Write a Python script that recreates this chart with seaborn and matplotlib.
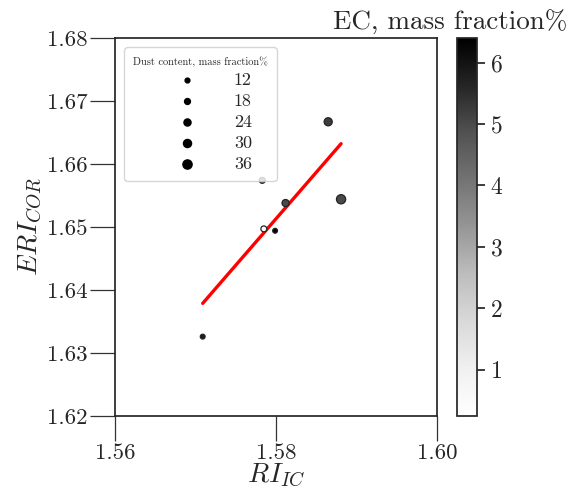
import seaborn as sns
import matplotlib.pyplot as plt
import matplotlib as mpl
import numpy as np
import pandas as pd

# data
ri_ic = [1.5709, 1.5783, 1.5785, 1.5799, 1.5812, 1.5865, 1.5881]
eri_cor = [1.6326, 1.6574, 1.6497, 1.6494, 1.6538, 1.6667, 1.6544]
ec = [5.8, 4.2, 0.25, 6.4, 5.0, 5.2, 5.0]
dust = [12, 18, 18, 12, 24, 30, 36]
dust_levels = [12, 18, 24, 30, 36]

df = pd.DataFrame({"RI": ri_ic, "ERI": eri_cor, "EC": ec, "Dust": dust})

sns.set_theme(style="ticks")
plt.rcParams["font.family"] = ["cmr10", "DejaVu Serif"]
plt.rcParams["mathtext.fontset"] = "cm"
plt.rcParams["axes.formatter.use_mathtext"] = True

fig = plt.figure(figsize=(5.68, 4.92), dpi=100)
ax = fig.add_axes([0.2025, 0.1545, 0.5665, 0.7683])
cax = fig.add_axes([0.8046, 0.1545, 0.0352, 0.7683])
ax.set_xlim(1.56, 1.60)
ax.set_ylim(1.62, 1.68)
ax.set_xticks([1.56, 1.58, 1.60])
ax.set_yticks([1.62, 1.63, 1.64, 1.65, 1.66, 1.67, 1.68])
ax.tick_params(axis="both", direction="out", length=18, width=0.9,
               color="#333333", labelsize=16.5, pad=2, bottom=True, left=True)
fig.canvas.draw()

norm = mpl.colors.Normalize(vmin=0.25, vmax=6.4)
size_map = {12: 12, 18: 18, 24: 26, 30: 34, 36: 44}
sns.scatterplot(data=df, x="RI", y="ERI", hue="EC", size="Dust",
                palette="Greys", hue_norm=norm, sizes=size_map,
                edgecolor="#222222", linewidth=0.9, legend=False, ax=ax, zorder=3)
sns.regplot(data=df, x="RI", y="ERI", scatter=False, ci=None, color="red",
            line_kws={"linewidth": 2.4}, ax=ax)

# size legend
handles = [ax.scatter([], [], s=size_map[d], c="black") for d in dust_levels]
leg = ax.legend(handles, [str(d) for d in dust_levels],
                title="Dust content, mass fraction%", title_fontsize=7.5,
                fontsize=13, loc="upper left", bbox_to_anchor=(0.0, 1.0),
                labelspacing=0.3, handlelength=4.2, handletextpad=0.5,
                borderpad=0.5, frameon=True)

sm = mpl.cm.ScalarMappable(norm=norm, cmap="Greys")
cb = fig.colorbar(sm, cax=cax)
cb.ax.tick_params(labelsize=17)
fig.canvas.draw()

ax.set_xticklabels(["1.56", "1.58", "1.60"])
ax.set_yticklabels(["1.62", "1.63", "1.64", "1.65", "1.66", "1.67", "1.68"])
ax.set_xlabel(r"$RI_{IC}$", fontsize=20, labelpad=-1)
ax.set_ylabel(r"$ERI_{COR}$", fontsize=20, labelpad=2)
fig.text(0.998, 0.955, "EC, mass fraction%", ha="right", va="center", fontsize=19.5)

fig.savefig("out.png", dpi=100)
